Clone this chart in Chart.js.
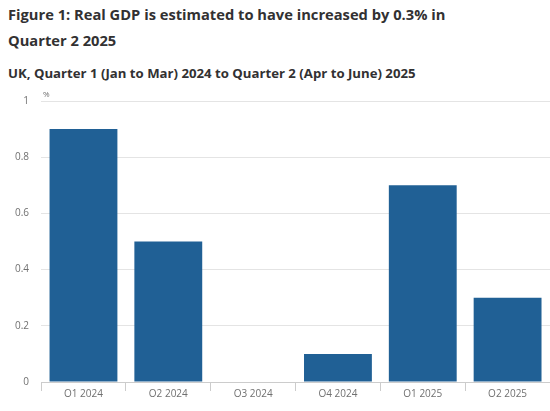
<!DOCTYPE html>
<html>
<head>
<meta charset="utf-8">
<script src="https://cdn.jsdelivr.net/npm/chart.js@4"></script>
<style>
  body { margin: 0; background: #fff; font-family: "Open Sans", sans-serif; color: #323132; }
  #wrap { position: relative; width: 550px; height: 411px; overflow: hidden; }
  h1 { position: absolute; left: 8px; top: 1px; margin: 0; font-size: 14.7px; font-weight: 700; line-height: 26px; width: 540px; }
  h2 { position: absolute; left: 8px; top: 63px; margin: 0; font-size: 13.2px; font-weight: 700; line-height: 20px; }
  #unit { position: absolute; left: 43px; top: 88px; font-size: 8px; color: #707070; }
  #box { position: absolute; left: 0; top: 83px; width: 550px; height: 328px; }
</style>
</head>
<body>
<div id="wrap">
  <h1>Figure 1: Real GDP is estimated to have increased by 0.3% in<br>Quarter 2 2025</h1>
  <h2>UK, Quarter 1 (Jan to Mar) 2024 to Quarter 2 (Apr to June) 2025</h2>
  <div id="box"><canvas id="grafico"></canvas></div>
  <span id="unit">%</span>
</div>
<script>
const trimestres = ['Q1 2024', 'Q2 2024', 'Q3 2024', 'Q4 2024', 'Q1 2025', 'Q2 2025'];
const crescimento = [0.9, 0.5, 0.0, 0.1, 0.7, 0.3];
const ticksY = [0, 0.2, 0.4, 0.6, 0.8, 1];

window.onload = function() {
    desenharGrafico();
};

function desenharGrafico() {
    const ctx = document.getElementById('grafico').getContext('2d');
    new Chart(ctx, {
        type: 'bar',
        data: {
            labels: trimestres,
            datasets: [{
                label: 'Real GDP',
                data: crescimento,
                backgroundColor: '#206095',
                categoryPercentage: 0.8,
                barPercentage: 1
            }]
        },
        options: {
            responsive: true,
            maintainAspectRatio: false,
            animation: false,
            layout: { padding: { top: 2, right: 0, left: 3, bottom: 14 } },
            plugins: { legend: { display: false }, tooltip: { enabled: false } },
            scales: {
                x: {
                    grid: { display: true, drawOnChartArea: false, color: '#cccccc', tickLength: 9, offset: true },
                    border: { color: '#cccccc' },
                    ticks: { color: '#707070', font: { family: 'Open Sans', size: 10 }, padding: -3, maxRotation: 0 }
                },
                y: {
                    min: 0,
                    max: 1,
                    afterBuildTicks: axis => { axis.ticks = ticksY.map(v => ({ value: v })); },
                    grid: { color: '#e4e4e4', drawTicks: false },
                    border: { display: false },
                    ticks: {
                        color: '#707070',
                        font: { family: 'Open Sans', size: 10 },
                        padding: 12,
                        callback: v => String(v)
                    }
                }
            }
        }
    });
}
</script>
</body>
</html>
